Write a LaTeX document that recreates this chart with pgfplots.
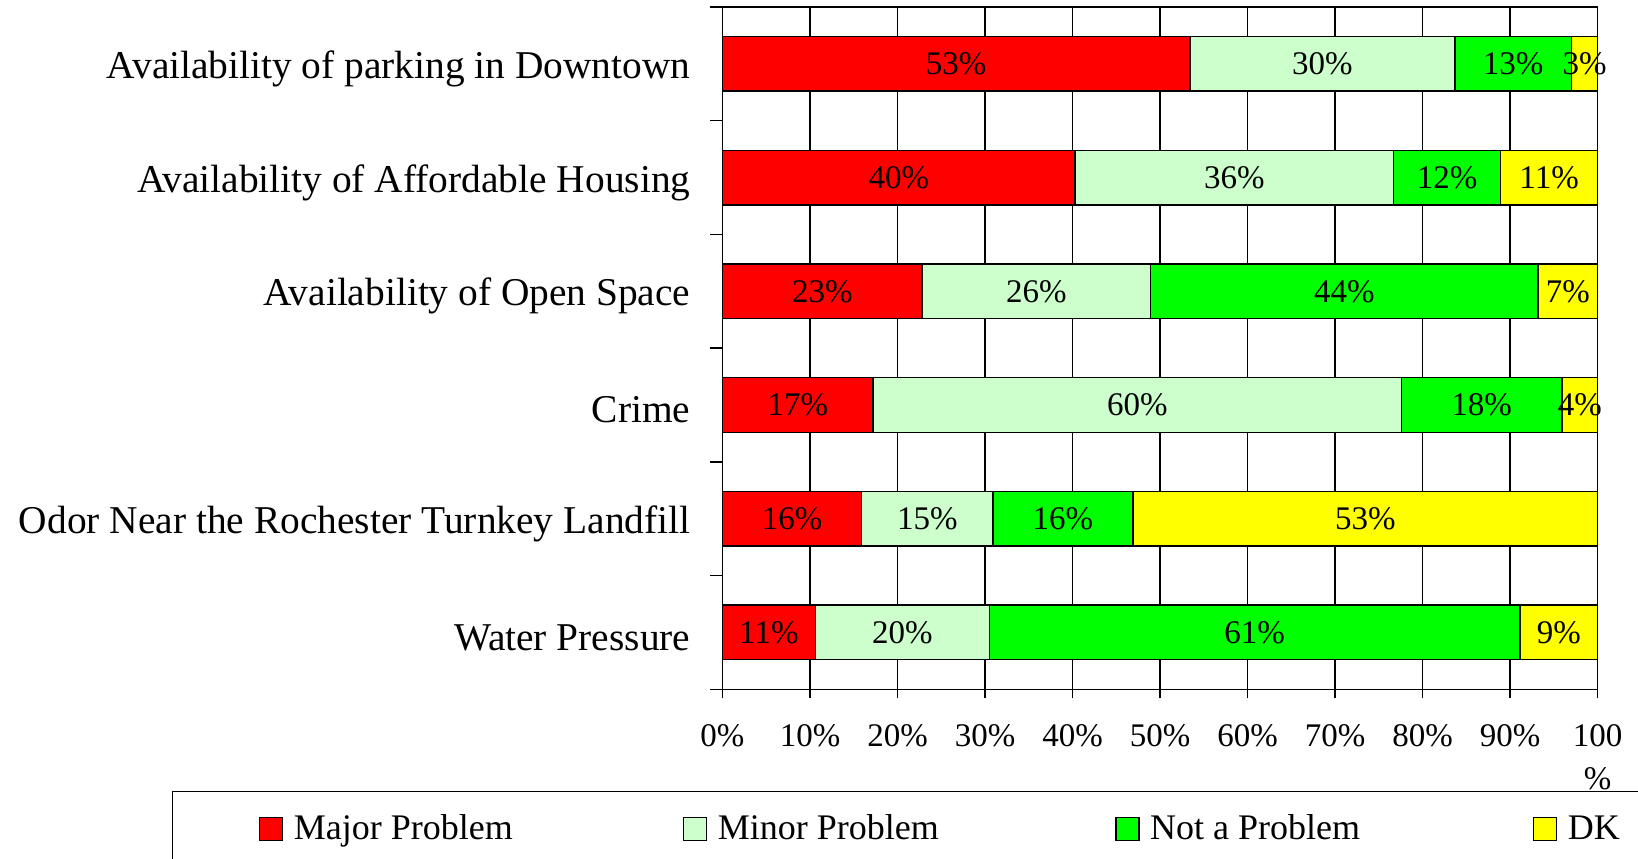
\documentclass[border=0pt]{standalone}
\usepackage{pgfplots}
\pgfplotsset{compat=1.18}
\usepackage{pgfplotstable}
\usepackage{fontspec}
\setmainfont{Liberation Serif}
\definecolor{cMajor}{RGB}{255,0,0}
\definecolor{cMinor}{RGB}{204,255,204}
\definecolor{cNot}{RGB}{0,255,0}
\definecolor{cDK}{RGB}{255,255,0}

\pgfplotstableread{
y v lab
0 53.4 53
1 40.3 40
2 22.8 23
3 17.2 17
4 15.9 16
5 10.6 11
}\tabMajor
\pgfplotstableread{
y v lab
0 30.3 30
1 36.4 36
2 26.1 26
3 60.4 60
4 15.0 15
5 19.9 20
}\tabMinor
\pgfplotstableread{
y v lab
0 13.3 13
1 12.2 12
2 44.3 44
3 18.3 18
4 16.0 16
5 60.6 61
}\tabNot
\pgfplotstableread{
y v lab
0 3.0 3
1 11.1 11
2 6.8 7
3 4.1 4
4 53.1 53
5 8.9 9
}\tabDK

\begin{document}
\begin{tikzpicture}
\begin{axis}[
  at={(0,0)}, anchor=south west,
  scale only axis, width=437.6pt, height=341.15pt,
  xbar stacked, bar width=27.3pt,
  xmin=0, xmax=100, ymin=-0.5, ymax=5.5, y dir=reverse,
  clip=false,
  xtick={0,10,20,30,40,50,60,70,80,90,100},
  xticklabels={0\%,10\%,20\%,30\%,40\%,50\%,60\%,70\%,80\%,90\%,{100\\\%}},
  xticklabel style={align=center, font=\fontsize{16.5}{21.5}\selectfont, yshift=-9.4pt},
  ytick={0,1,2,3,4,5},
  yticklabels={Availability of parking in Downtown,Availability of Affordable Housing,Availability of Open Space,Crime,Odor Near the Rochester Turnkey Landfill,Water Pressure},
  yticklabel style={font=\fontsize{19.7}{22}\selectfont, xshift=-8pt, yshift=-2.5pt},
  minor ytick={-0.5,0.5,1.5,2.5,3.5,4.5,5.5},
  tick pos=left, tick align=outside,
  major tick length=4.5pt, minor tick length=6pt,
  major y tick style={draw=none},
  minor y tick style={draw=black, line width=0.75pt},
  major x tick style={draw=black, line width=0.75pt},
  xmajorgrids, grid style={black, line width=0.75pt},
  axis line style={black, line width=0.75pt},
  point meta=explicit symbolic,
  nodes near coords={\pgfplotspointmeta\%},
  every node near coord/.append style={anchor=center, font=\fontsize{16.5}{18}\selectfont, black},
  legend image code/.code={\draw[#1, draw=black, line width=0.7pt] (0pt,-5.75pt) rectangle (11.5pt,5.75pt);},
  legend columns=4,
  legend cell align=left,
  legend style={at={(-0.629,-0.149)}, anchor=north west, draw=black, line width=0.75pt,
    inner xsep=43.1pt, inner ysep=9.6pt, font=\fontsize{18}{20}\selectfont,
    /tikz/every odd column/.append style={column sep=3.3pt},
    /tikz/every even column/.append style={column sep=0pt}},
]
\addplot[fill=cMajor, draw=black, line width=0.7pt] table[x=v, y=y, meta=lab] {\tabMajor};
\addlegendentry{\makebox[192.5pt][l]{Major Problem}}
\addplot[fill=cMinor, draw=black, line width=0.7pt] table[x=v, y=y, meta=lab] {\tabMinor};
\addlegendentry{\makebox[196.6pt][l]{Minor Problem}}
\addplot[fill=cNot, draw=black, line width=0.7pt] table[x=v, y=y, meta=lab] {\tabNot};
\addlegendentry{\makebox[189.4pt][l]{Not a Problem}}
\addplot[fill=cDK, draw=black, line width=0.7pt] table[x=v, y=y, meta=lab] {\tabDK};
\addlegendentry{DK}
\end{axis}
\pgfresetboundingbox
\path (-361.25pt,-84.35pt) rectangle (457.75pt,344.65pt);
\end{tikzpicture}
\end{document}
